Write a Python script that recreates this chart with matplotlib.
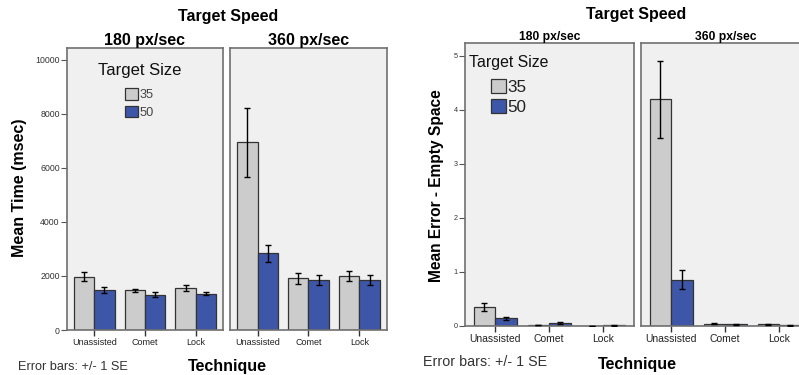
import matplotlib
matplotlib.use("Agg")
import matplotlib.pyplot as plt
from matplotlib.patches import Patch
import numpy as np

plt.rcParams['font.family'] = ['Liberation Sans', 'DejaVu Sans']

techniques = ["Unassisted", "Comet", "Lock"]
speeds = ["180 px/sec", "360 px/sec"]
sizes = ["35", "50"]

# Mean time (msec): [speed][size][technique]
time_mean = {
    "180 px/sec": {"35": [1980, 1470, 1550], "50": [1490, 1310, 1350]},
    "360 px/sec": {"35": [6950, 1910, 1990], "50": [2840, 1850, 1860]},
}
time_se = {
    "180 px/sec": {"35": [170, 60, 100], "50": [110, 80, 60]},
    "360 px/sec": {"35": [1280, 200, 180], "50": [310, 170, 180]},
}
# Mean error - empty space
err_mean = {
    "180 px/sec": {"35": [0.35, 0.02, 0.005], "50": [0.14, 0.05, 0.01]},
    "360 px/sec": {"35": [4.20, 0.04, 0.03], "50": [0.86, 0.03, 0.01]},
}
err_se = {
    "180 px/sec": {"35": [0.07, 0.005, 0.002], "50": [0.03, 0.015, 0.004]},
    "360 px/sec": {"35": [0.71, 0.012, 0.01], "50": [0.18, 0.008, 0.004]},
}

colors = {"35": "#cccccc", "50": "#3d56a8"}
W, H = 799, 375
fig = plt.figure(figsize=(W / 100, H / 100), dpi=100)


def rect(l, r, t, b):
    return [l / W, 1 - b / H, (r - l) / W, (b - t) / H]


def fxy(x, y):
    return (x / W, 1 - y / H)


def draw_panel(ax, means, ses, ylim, xlim, show_y, ytick_fs, xtick_fs, yticks, capsize):
    x = np.arange(len(techniques))
    bw = 0.4
    for k, s in enumerate(sizes):
        off = (k - 0.5) * bw
        ax.bar(x + off, means[s], width=bw, color=colors[s], edgecolor="#333333",
               linewidth=0.9, zorder=2)
        ax.errorbar(x + off, means[s], yerr=ses[s], fmt="none", ecolor="black",
                    elinewidth=1.0, capsize=capsize, capthick=1.0, zorder=3)
    ax.set_xlim(*xlim)
    ax.set_ylim(*ylim)
    ax.set_facecolor("#f0f0f0")
    for sp in ax.spines.values():
        sp.set_color("#707070")
        sp.set_linewidth(1.2)
    ax.set_xticks(x)
    ax.set_xticklabels(techniques, fontsize=xtick_fs, color="#222222")
    ax.tick_params(axis="x", direction="out", length=4, width=1, color="#333333", pad=1.5)
    if show_y:
        ax.set_yticks(yticks)
        ax.set_yticklabels([str(v) for v in yticks], fontsize=ytick_fs, color="#333333")
        ax.tick_params(axis="y", direction="out", length=4.5, width=0.8, color="#555555", pad=0.8)
    else:
        ax.set_yticks([])


handles = [Patch(facecolor=colors[s], edgecolor="#333333", linewidth=0.9) for s in sizes]

# ---------------- Left chart: Mean Time ----------------
axL1 = fig.add_axes(rect(67, 223, 48, 330))
axL2 = fig.add_axes(rect(230, 387, 48, 330))
for ax, sp, show in [(axL1, speeds[0], True), (axL2, speeds[1], False)]:
    draw_panel(ax, time_mean[sp], time_se[sp], (0, 10440), (-0.54, 2.54), show,
               6.3, 6.5, [0, 2000, 4000, 6000, 8000, 10000], 2.3)
    ax.set_title(sp, fontsize=11.5, fontweight="bold", pad=1.5)

fig.text(*fxy(228, 16), "Target Speed", ha="center", va="center",
         fontsize=11.5, fontweight="bold")
fig.text(*fxy(20, 188), "Mean Time (msec)", ha="center", va="center",
         rotation=90, fontsize=11.5, fontweight="bold")
fig.text(*fxy(227, 366), "Technique", ha="center", va="center",
         fontsize=11.5, fontweight="bold")
fig.text(*fxy(18, 367), "Error bars: +/- 1 SE", ha="left", va="center",
         fontsize=9.2, color="#333333")
fig.text(*fxy(140, 71), "Target Size", ha="center", va="center",
         fontsize=12, color="#111111")
axL1.legend(handles, sizes, frameon=False,
            loc="center left", bbox_to_anchor=fxy(125, 103.5),
            bbox_transform=fig.transFigure, fontsize=9.2,
            handlelength=1.0, handleheight=1.0, handletextpad=0.1,
            labelspacing=0.33, borderpad=0, borderaxespad=0, labelcolor="#444444")

# ---------------- Right chart: Mean Error ----------------
axR1 = fig.add_axes(rect(465, 634, 43, 326))
axR2 = fig.add_axes(rect(641, 810, 43, 326))
for ax, sp, show in [(axR1, speeds[0], True), (axR2, speeds[1], False)]:
    draw_panel(ax, err_mean[sp], err_se[sp], (0, 5.24), (-0.56, 2.57), show,
               5.2, 7.5, [0, 1, 2, 3, 4, 5], 2.5)
    ax.set_title(sp, fontsize=8.7, fontweight="bold", pad=1.0)

fig.text(*fxy(636, 15), "Target Speed", ha="center", va="center",
         fontsize=11.5, fontweight="bold")
fig.text(*fxy(437, 186), "Mean Error - Empty Space", ha="center", va="center",
         rotation=90, fontsize=11.2, fontweight="bold")
fig.text(*fxy(637, 365), "Technique", ha="center", va="center",
         fontsize=11.5, fontweight="bold")
fig.text(*fxy(423, 362), "Error bars: +/- 1 SE", ha="left", va="center",
         fontsize=10.3, color="#333333")
fig.text(*fxy(508.5, 62), "Target Size", ha="center", va="center",
         fontsize=11.4, color="#111111")
axR1.legend(handles, sizes, frameon=False,
            loc="center left", bbox_to_anchor=fxy(491, 97),
            bbox_transform=fig.transFigure, fontsize=12.3,
            handlelength=0.88, handleheight=0.88, handletextpad=0.1,
            labelspacing=0.27, borderpad=0, borderaxespad=0, labelcolor="#222222")

fig.savefig("out.png", dpi=100)
